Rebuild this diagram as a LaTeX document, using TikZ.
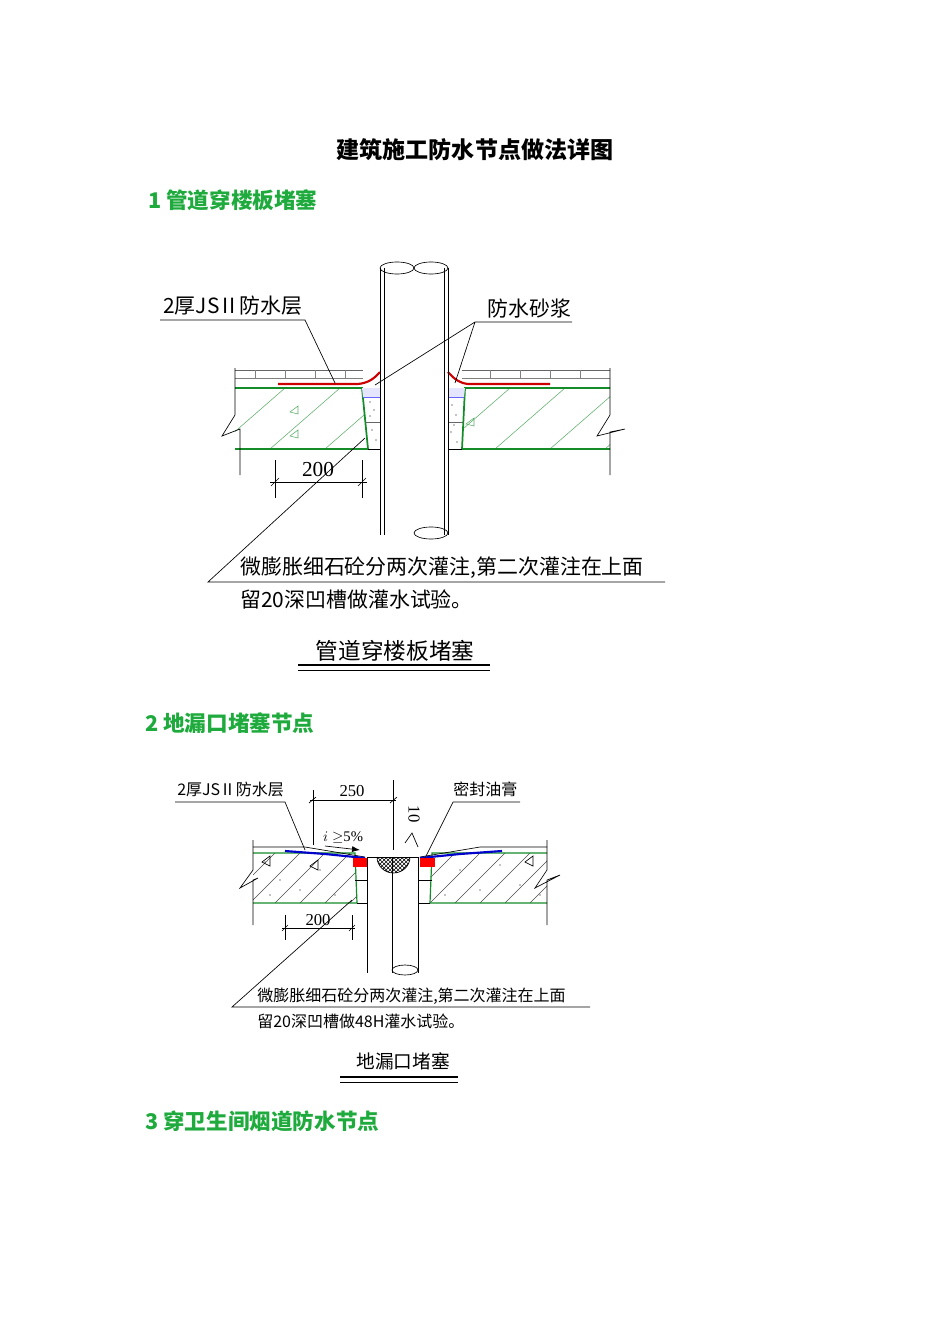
\documentclass[tikz,border=0pt]{standalone}
\usepackage{fontspec}
\setmainfont{Liberation Serif}
\newfontfamily\cjk{Noto Sans CJK SC}
\usetikzlibrary{patterns,arrows.meta}
\definecolor{hgreen}{RGB}{30,170,60}
\definecolor{lgreen}{RGB}{20,140,40}
\tikzset{
 lbl/.style={font=\cjk\fontsize{15.7}{15.7}\selectfont,inner sep=0pt},
 lbls/.style={font=\cjk\fontsize{12}{12}\selectfont,inner sep=0pt},
 head/.style={font=\cjk\bfseries\fontsize{16.2}{16.2}\selectfont,text=hgreen,anchor=west,inner sep=0pt},
 thin/.style={line width=0.5pt},
 slab/.style={lgreen,line width=1.3pt},
 hatch/.style={lgreen!70,line width=0.4pt},
}
\begin{document}
\begin{tikzpicture}[x=0.75pt,y=-0.75pt]
\useasboundingbox[fill=white] (0,0) rectangle (950,1344);
\node[font=\cjk\bfseries\fontsize{17.3}{17.3}\selectfont,inner sep=0pt] (title) at (475,150) {建筑施工防水节点做法详图};
\node[head] (h1) at (148,200) {1 管道穿楼板堵塞};
\node[head] (h2) at (145,723) {2 地漏口堵塞节点};
\node[head] (h3) at (145,1121) {3 穿卫生间烟道防水节点};

% ================= Diagram 1 =================
\draw[thin,black!60] (235,370) -- (363,370) (462,370) -- (610,370);
\foreach \x in {255,285,315,345}{\draw[thin,black!50] (\x,370) -- (\x,378);}
\foreach \x in {490,520,550,580}{\draw[thin,black!50] (\x,370) -- (\x,378);}
\draw[thin,black!50] (235,378) -- (363,378) (462,378) -- (610,378);
\begin{scope}
\clip (235,388) -- (362,388) -- (368,449) -- (235,449) -- cycle;
\foreach \x in {160,215,270,325,380}{\draw[hatch] (\x,449) -- (\x+70,388);}
\end{scope}
\begin{scope}
\clip (465,388) -- (610,388) -- (610,449) -- (462,449) -- cycle;
\foreach \x in {440,495,550,605}{\draw[hatch] (\x,449) -- (\x+70,388);}
\end{scope}
\draw[hatch] (290,412) -- (298,406) -- (298,414) -- cycle;
\draw[hatch] (290,436) -- (298,430) -- (298,438) -- cycle;
\draw[hatch] (466,424) -- (474,418) -- (474,426) -- cycle;
\draw[slab] (235,388) -- (362,388) -- (368,449) -- (235,449);
\draw[slab] (610,388) -- (465,388) -- (462,449) -- (610,449);
\draw[thin] (368,449) -- (380,449) (448,449) -- (462,449);
\draw[thin] (235,368) -- (235,415) -- (222,436) -- (240,429) -- (240,475);
\draw[thin] (610,368) -- (610,415) -- (597,436) -- (625,429) -- (610,432) -- (610,475);
\fill[blue!10] (362,388) -- (380,388) -- (380,397) -- (363,397) -- cycle;
\fill[blue!10] (448,388) -- (465,388) -- (464,397) -- (448,397) -- cycle;
\draw[thin,blue!60] (363,397) -- (380,397) (448,397) -- (464,397);
\draw[thin,black!60] (366,422) -- (380,422) (448,422) -- (463,422);
\foreach \p in {(370,402),(374,410),(372,430),(376,440),(452,405),(456,415),(451,432),(457,442),(370,416),(454,425)}{\fill \p circle (0.7);}
\draw[red!80!black,line width=1.6pt] (278,384) -- (358,384) .. controls (367,383) and (373,380) .. (380,372);
\draw[red!80!black,line width=1.6pt] (448,372) .. controls (455,380) and (460,383) .. (468,384) -- (550,384);
\draw[thin] (380,268) -- (380,535) (448,268) -- (448,535);
\draw[thin] (384,268) -- (384,535) (444,268) -- (444,535);
\draw[thin] (397,268) ellipse (17 and 6);
\draw[thin] (431,268) ellipse (17 and 6);
\draw[thin] (431,533) ellipse (17 and 6);
\node[lbl,anchor=south west] (l1) at (163,316) {2厚JS\,II 防水层};
\draw[thin] (160,320) -- (305,320) -- (335,383);
\node[lbl,anchor=south west] (l2) at (487,318) {防水砂浆};
\draw[thin] (572,322) -- (475,322) -- (375,385) (475,322) -- (455,383);
\draw[thin] (275,460) -- (275,498) (362,460) -- (362,498);
\draw[thin] (270,482) -- (367,482);
\draw[thin] (271,486) -- (279,478) (358,486) -- (366,478);
\node[font=\fontsize{16}{16}\selectfont,inner sep=0pt] (d1) at (318,470) {200};
\draw[thin] (365,438) -- (208,582) -- (665,582);
\node[lbl,anchor=west] (t1) at (240,568) {微膨胀细石砼分两次灌注,第二次灌注在上面};
\node[lbl,anchor=west] (t2) at (240,599) {留20深凹槽做灌水试验。};
\node[font=\cjk\fontsize{17}{17}\selectfont,inner sep=0pt] (c1) at (395,651) {管道穿楼板堵塞};
\draw[line width=2pt] (298,665) -- (490,665);
\draw[thin] (298,670) -- (490,670);

% ================= Diagram 2 =================
\begin{scope}
\clip (253,853) -- (355,853) -- (357,903) -- (253,903) -- cycle;
\foreach \x in {200,225,...,380}{\draw[thin,black!70] (\x,903) -- (\x+50,853);}
\end{scope}
\begin{scope}
\clip (432,853) -- (547,853) -- (547,903) -- (430,903) -- cycle;
\foreach \x in {405,430,...,560}{\draw[thin,black!70] (\x,903) -- (\x+50,853);}
\end{scope}
\foreach \p in {(265,862),(280,880),(300,890),(320,870),(335,895),(460,870),(480,890),(500,865),(520,885),(540,895),(270,895),(445,895)}{\fill \p circle (0.7);}
\draw[thin] (262,862) -- (270,856) -- (270,866) -- cycle;
\draw[thin] (310,866) -- (318,860) -- (318,870) -- cycle;
\draw[thin] (525,862) -- (533,856) -- (533,866) -- cycle;
\draw[lgreen,line width=0.9pt] (253,853) -- (355,853) -- (357,903) -- (253,903);
\draw[lgreen,line width=0.9pt] (547,853) -- (432,853) -- (430,903) -- (547,903);
\draw[thin] (357,903) -- (367,903) (418,903) -- (430,903);
\draw[thin] (355,880) -- (367,880) (418,880) -- (432,880);
\draw[thin] (253,840) -- (253,870) -- (240,888) -- (258,878) -- (253,880) -- (253,925);
\draw[thin] (547,840) -- (547,870) -- (535,888) -- (560,875) -- (547,880) -- (547,925);
\draw[thin] (253,847) -- (305,847) -- (365,857);
\draw[thin] (420,857) -- (480,847) -- (547,847);
\draw[blue!80!black,line width=1.6pt] (285,851) -- (325,854) -- (365,858);
\draw[blue!80!black,line width=1.6pt] (420,858) -- (460,854) -- (502,851);
\fill[red] (353,858) rectangle (367,867);
\fill[red] (420,858) rectangle (435,867);
\draw[thin] (367,857) -- (367,973) (418,857) -- (418,973) (367,857) -- (418,857);
\draw[thin] (392,857) -- (392,973);
\draw[thin] (405,970) ellipse (13 and 5);
\draw[thin,pattern=crosshatch] (377,857) arc (180:0:16.5 and 16);
\node[lbls,anchor=south west] (m1) at (177,797) {2厚JS\,II 防水层};
\draw[thin] (175,802) -- (285,802) -- (305,850);
\draw[thin] (313,790) -- (313,845) (393,780) -- (393,850);
\draw[thin] (310,800) -- (396,800);
\draw[thin] (309,803) -- (316,797) (390,803) -- (397,797);
\node[font=\fontsize{12.5}{12.5}\selectfont,inner sep=0pt] (d2) at (352,791) {250};
\node[font=\fontsize{12.5}{12.5}\selectfont,inner sep=0pt,rotate=-90] (d3) at (414,814) {10};
\draw[thin] (405,843) -- (412,833) -- (418,847);
\node[lbls,anchor=south west] (m2) at (453,797) {密封油膏};
\draw[thin] (520,802) -- (453,802) -- (425,858);
\node[font=\fontsize{11}{11}\selectfont,inner sep=0pt] (sl) at (343,838) {$i\geq$5\%};
\draw[thin,-{Latex[length=6pt]}] (325,846) -- (360,850);
\draw[thin] (285,915) -- (285,940) (352,915) -- (352,940);
\draw[thin] (282,928) -- (355,928);
\draw[thin] (282,931) -- (288,925) (349,931) -- (355,925);
\node[font=\fontsize{12.5}{12.5}\selectfont,inner sep=0pt] (d4) at (318,920) {200};
\draw[thin] (352,900) -- (232,1007) -- (590,1007);
\node[lbls,anchor=west] (u1) at (257,996) {微膨胀细石砼分两次灌注,第二次灌注在上面};
\node[lbls,anchor=west] (u2) at (257,1021) {留20深凹槽做48H灌水试验。};
\node[font=\cjk\fontsize{14}{14}\selectfont,inner sep=0pt] (c2) at (403,1061) {地漏口堵塞};
\draw[line width=2pt] (340,1077) -- (458,1077);
\draw[thin] (340,1082) -- (458,1082);
\end{tikzpicture}
\end{document}
